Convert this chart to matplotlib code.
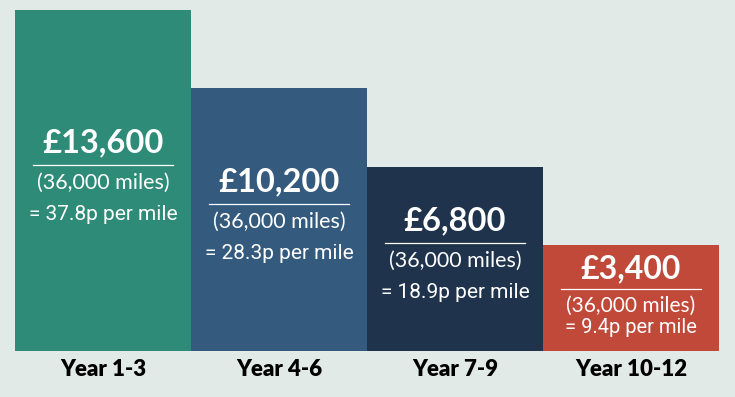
import matplotlib.pyplot as plt

# data
periods = ['Year 1-3', 'Year 4-6', 'Year 7-9', 'Year 10-12']
costs = [13600, 10200, 6800, 3400]
miles_text = ['(36,000 miles)'] * 4
pence_per_mile = [37.8, 28.3, 18.9, 9.4]
colours = ['#2e8b78', '#345a7e', '#1f344c', '#c0493a']
bg = '#e2eae7'

# the bars in the original are not drawn from zero, so use a shifted baseline
base = 1217
px = 0.023   # pixels per pound

fig = plt.figure(figsize=(7.35, 3.97), dpi=100)
fig.patch.set_facecolor(bg)
ax = fig.add_axes([0, 0, 1, 1])
ax.set_facecolor(bg)
ax.axis('off')

x = list(range(len(costs)))
ax.bar(x, [c + base for c in costs], bottom=-base, width=1.0,
       color=colours, edgecolor='none')

ax.set_xlim(-0.5 - 15 / 176, 3.5 + 16 / 176)
ax.set_ylim(-base - 46 / px, -base + 351 / px)


def dy(pixels):
    # pixel offset (downwards) -> data units
    return -pixels / px


for i, c in enumerate(costs):
    mid = (c - base) / 2
    small = i == 3
    if small:
        offs = (-29, -9, 8, 30)
        fs = (23, 15, 14.5)
    else:
        offs = (-38, -16, 2, 34)
        fs = (23.5, 15.5, 15)
    ax.text(i, mid + dy(offs[0]), '£{:,}'.format(c), color='white',
            fontsize=fs[0], fontweight='bold', family='Lato',
            ha='center', va='center')
    ax.plot([i - 0.395, i + 0.395], [mid + dy(offs[1])] * 2,
            color='white', lw=0.9)
    ax.text(i, mid + dy(offs[2]), miles_text[i], color='white',
            fontsize=fs[1], family='Lato', ha='center', va='center')
    ax.text(i, mid + dy(offs[3]), '= {}p per mile'.format(pence_per_mile[i]),
            color='white', fontsize=fs[2], family='Roboto',
            ha='center', va='center')

for i, p in enumerate(periods):
    ax.text(i, -base + dy(19), p, color='black', fontsize=16,
            fontweight='heavy', family='Lato', ha='center', va='center')

fig.savefig('out.png', dpi=100, facecolor=bg)
